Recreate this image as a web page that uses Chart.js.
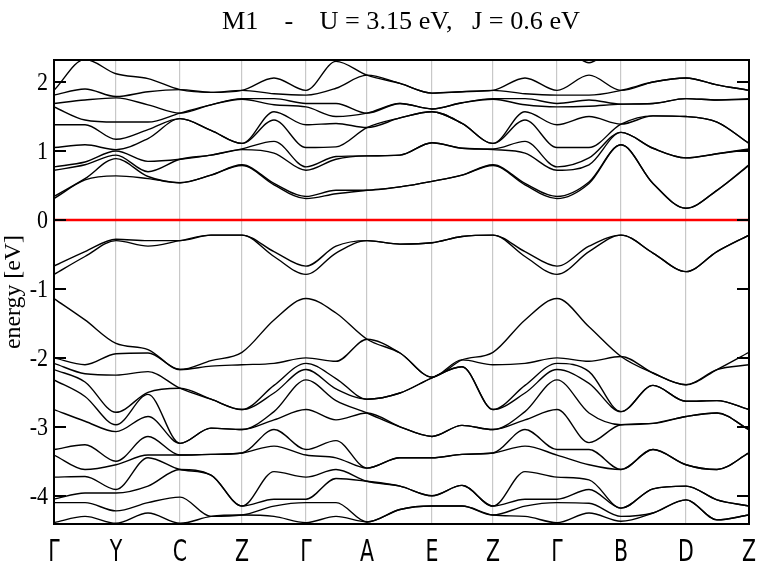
<!DOCTYPE html>
<html>
<head>
<meta charset="utf-8">
<script src="https://cdn.jsdelivr.net/npm/chart.js@4.4.0/dist/chart.umd.min.js"></script>
<style>
  html, body { margin: 0; padding: 0; background: #fff; }
</style>
</head>
<body>
<canvas id="bands" width="761" height="574"></canvas>
<script>
// high-symmetry points along the path (k distance in plot units)
const kLabels = ['Γ', 'Y', 'C', 'Z', 'Γ', 'A', 'E', 'Z', 'Γ', 'B', 'D', 'Z'];
const kTicks = [0, 62, 126, 188, 252, 313, 378, 439, 503, 567, 632, 695];
const yTicks = [-4, -3, -2, -1, 0, 1, 2];

// k positions where energies were read (symmetry points + segment middles)
const kPath = [0, 31, 62, 94, 126, 157, 188, 220, 252, 282, 313, 346, 378, 408, 439, 471, 503, 535, 567, 599, 632, 663, 695];

// energies (eV) at each sampled k, lowest band first:
// 12 deep valence, 2 top valence, 10 conduction, 1 band above the window
const G  = [-4.39, -4.10, -4.05, -3.73, -3.41, -3.33, -2.75, -2.32, -2.17, -2.08, -2.00, -1.14, -0.79, -0.67, 0.31, 0.34, 0.72, 0.77, 1.05, 1.38, 1.64, 1.69, 1.81, 1.88, 2.6];
const GY = [-4.30, -4.10, -3.96, -3.72, -3.62, -3.26, -2.92, -2.56, -2.35, -2.23, -2.10, -1.45, -0.53, -0.46, 0.58, 0.60, 0.80, 0.84, 1.09, 1.38, 1.45, 1.74, 1.90, 2.33, 2.6];
const Y  = [-4.40, -4.22, -3.96, -3.91, -3.55, -3.50, -3.07, -2.97, -2.79, -2.25, -1.94, -1.79, -0.30, -0.28, 0.64, 0.89, 0.94, 1.00, 1.02, 1.17, 1.42, 1.77, 1.79, 2.12, 2.6];
const YC = [-4.25, -4.10, -3.86, -3.45, -3.41, -3.14, -2.85, -2.53, -2.50, -2.20, -1.93, -1.88, -0.38, -0.30, 0.60, 0.63, 0.70, 0.85, 1.18, 1.31, 1.42, 1.67, 1.86, 2.05, 2.6];
const C  = [-4.40, -4.02, -3.62, -3.62, -3.41, -3.41, -3.24, -3.24, -2.44, -2.44, -2.17, -2.17, -0.30, -0.30, 0.54, 0.54, 0.88, 0.88, 1.47, 1.47, 1.55, 1.55, 1.89, 1.89, 2.6];
const CZ = [-4.30, -4.30, -3.70, -3.70, -3.40, -3.40, -3.02, -3.02, -2.60, -2.60, -2.12, -2.04, -0.22, -0.22, 0.65, 0.65, 0.94, 0.94, 1.30, 1.30, 1.67, 1.67, 1.85, 1.85, 2.6];
const Z  = [-4.28, -4.28, -4.15, -4.15, -3.38, -3.38, -3.04, -3.04, -2.75, -2.75, -2.10, -1.92, -0.22, -0.22, 0.79, 0.80, 1.02, 1.03, 1.11, 1.11, 1.75, 1.76, 1.88, 1.88, 2.6];
const ZG = [-4.30, -4.15, -4.05, -3.65, -3.28, -3.04, -2.90, -2.78, -2.51, -2.40, -2.08, -1.45, -0.53, -0.46, 0.51, 0.53, 0.97, 1.14, 1.45, 1.57, 1.67, 1.76, 1.83, 2.06, 2.6];
const GA = [-4.30, -4.10, -3.75, -3.62, -3.45, -3.20, -2.90, -2.62, -2.45, -2.30, -2.05, -1.35, -0.48, -0.38, 0.38, 0.43, 0.88, 0.92, 1.06, 1.40, 1.50, 1.69, 1.91, 2.30, 2.6];
const A  = [-4.38, -4.38, -3.79, -3.79, -3.60, -3.60, -2.80, -2.80, -2.60, -2.60, -1.73, -1.73, -0.30, -0.30, 0.43, 0.43, 0.93, 0.93, 1.34, 1.34, 1.55, 1.55, 2.10, 2.10, 2.6];
const AE = [-4.20, -4.20, -3.86, -3.86, -3.45, -3.45, -3.00, -3.00, -2.51, -2.51, -1.93, -1.93, -0.35, -0.35, 0.48, 0.48, 0.94, 0.94, 1.48, 1.48, 1.69, 1.69, 1.98, 1.98, 2.6];
const E  = [-4.15, -4.15, -4.00, -4.00, -3.45, -3.45, -3.14, -3.14, -2.29, -2.29, -2.28, -2.28, -0.33, -0.33, 0.56, 0.56, 1.12, 1.12, 1.57, 1.57, 1.61, 1.61, 1.84, 1.84, 2.6];
const EZ = [-4.15, -4.15, -3.85, -3.85, -3.40, -3.40, -2.98, -2.98, -2.13, -2.13, -2.03, -2.03, -0.24, -0.24, 0.65, 0.65, 1.04, 1.04, 1.40, 1.40, 1.70, 1.70, 1.86, 1.86, 2.6];
const GB = [-4.25, -4.11, -3.91, -3.77, -3.55, -3.33, -3.23, -2.80, -2.37, -2.20, -2.05, -1.55, -0.46, -0.38, 0.53, 0.55, 0.80, 0.90, 1.05, 1.50, 1.65, 1.74, 1.81, 2.10, 2.28];
const B  = [-4.37, -4.30, -4.18, -4.18, -3.62, -3.62, -2.97, -2.97, -2.78, -2.78, -1.98, -1.98, -0.22, -0.22, 1.09, 1.09, 1.27, 1.27, 1.39, 1.39, 1.68, 1.68, 1.88, 1.88, 2.6];
const BD = [-4.25, -4.25, -3.90, -3.90, -3.33, -3.33, -2.95, -2.95, -2.40, -2.40, -2.22, -2.22, -0.48, -0.48, 0.53, 0.53, 1.04, 1.04, 1.51, 1.51, 1.69, 1.69, 2.00, 2.00, 2.6];
const D  = [-4.06, -4.06, -3.86, -3.86, -3.55, -3.55, -2.85, -2.85, -2.63, -2.63, -2.39, -2.39, -0.75, -0.75, 0.17, 0.17, 0.90, 0.90, 1.50, 1.50, 1.76, 1.76, 2.06, 2.06, 2.6];
const DZ = [-4.35, -4.35, -4.06, -4.06, -3.62, -3.62, -2.80, -2.80, -2.62, -2.62, -2.17, -2.17, -0.46, -0.46, 0.43, 0.43, 0.96, 0.96, 1.42, 1.42, 1.74, 1.74, 1.96, 1.96, 2.6];

const path = [G, GY, Y, YC, C, CZ, Z, ZG, G, GA, A, AE, E, EZ, Z, ZG, G, GB, B, BD, D, DZ, Z];

const datasets = G.map((_, b) => ({
  data: kPath.map((k, j) => ({ x: k, y: path[j][b] })),
  borderColor: '#000',
  borderWidth: 1.4,
  pointRadius: 0,
  cubicInterpolationMode: 'monotone'
}));
datasets.push({
  data: [{ x: 0, y: 0 }, { x: 695, y: 0 }],
  borderColor: '#ff0000',
  borderWidth: 2.5,
  pointRadius: 0
});

// squeezes text horizontally so it fits a given width
function narrowText(ctx, text, cx, cy, width) {
  const w = ctx.measureText(text).width;
  ctx.save();
  ctx.translate(cx, cy);
  ctx.scale(width / w, 1);
  ctx.fillText(text, 0, 0);
  ctx.restore();
}

const decor = {
  id: 'decor',
  afterDraw(chart) {
    const { ctx, chartArea: a, scales } = chart;
    const y = scales.y, x = scales.x;
    ctx.save();
    ctx.strokeStyle = '#000';
    ctx.lineWidth = 2;
    ctx.strokeRect(a.left, a.top, a.right - a.left, a.bottom - a.top);

    ctx.fillStyle = '#000';
    ctx.font = '25px "Liberation Serif"';
    ctx.textAlign = 'right';
    ctx.textBaseline = 'middle';
    yTicks.forEach(v => {
      const py = Math.round(y.getPixelForValue(v));
      ctx.beginPath();
      ctx.moveTo(a.left, py); ctx.lineTo(a.left + 12, py);
      ctx.moveTo(a.right - 12, py); ctx.lineTo(a.right, py);
      ctx.stroke();
      ctx.save();
      ctx.translate(a.left - 6, py + 1);
      ctx.scale(0.88, 1);
      ctx.fillText(String(v), 0, 0);
      ctx.restore();
    });

    // k-point letters, narrow like the original
    ctx.font = '31px "DejaVu Sans"';
    ctx.textAlign = 'center';
    ctx.textBaseline = 'alphabetic';
    kTicks.forEach((k, i) => {
      ctx.save();
      ctx.translate(x.getPixelForValue(k), 561);
      ctx.scale(0.66, 1);
      ctx.fillText(kLabels[i], 0, 0);
      ctx.restore();
    });

    ctx.font = '26px "Liberation Serif"';
    narrowText(ctx, 'M1    -    U = 3.15 eV,   J = 0.6 eV', 401, 29, 358);

    ctx.save();
    ctx.font = '23px "Liberation Serif"';
    ctx.translate(14, 292);
    ctx.rotate(-Math.PI / 2);
    ctx.textBaseline = 'middle';
    narrowText(ctx, 'energy [eV]', 0, 0, 114);
    ctx.restore();
    ctx.restore();
  }
};

new Chart(document.getElementById('bands'), {
  type: 'line',
  data: { datasets },
  options: {
    responsive: false,
    animation: false,
    layout: { padding: { left: 54, top: 60, right: 12, bottom: 50 } },
    plugins: { legend: { display: false }, tooltip: { enabled: false } },
    scales: {
      x: {
        type: 'linear', min: 0, max: 695,
        afterBuildTicks: s => { s.ticks = kTicks.map(v => ({ value: v })); },
        afterFit: s => { s.height = 0; },
        ticks: { display: false },
        grid: { color: '#c8c8c8', lineWidth: 1.2, drawTicks: false },
        border: { display: false }
      },
      y: { display: false, min: -4.41, max: 2.32 }
    }
  },
  plugins: [decor]
});
</script>
</body>
</html>
